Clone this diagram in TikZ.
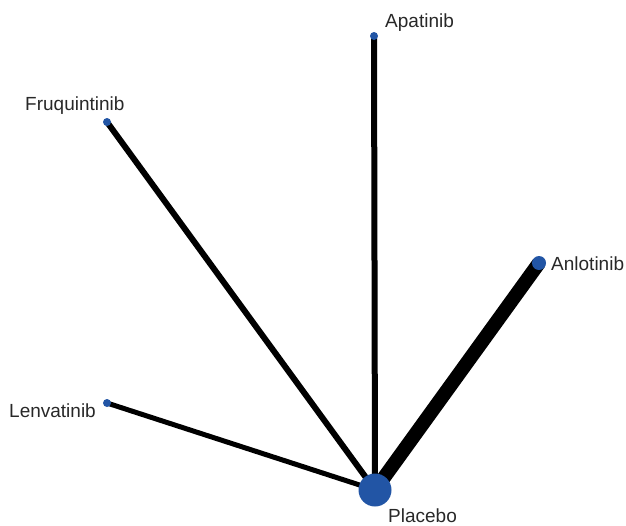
\documentclass[tikz,border=0pt]{standalone}
\usepackage{fontspec}
\setmainfont{Liberation Sans}
\definecolor{nodeblue}{RGB}{34,85,165}
\definecolor{labelgray}{RGB}{40,40,40}
\tikzset{
  trt/.style={circle, fill=nodeblue, inner sep=0pt, minimum size=#1},
  lab/.style={anchor=base west, inner sep=0pt, text=labelgray, font=\fontsize{19}{22}\selectfont},
  edge/.style={draw=black, line width=#1}
}
\begin{document}
\begin{tikzpicture}[x=1pt,y=-1pt]
\useasboundingbox (0,0) rectangle (626,525);
\coordinate (P) at (375,490);
\coordinate (Ap) at (374,36);
\coordinate (Fr) at (107,122);
\coordinate (An) at (539,263);
\coordinate (Le) at (107,403);
\draw[edge=6pt] (P) -- (Ap);
\draw[edge=6pt] (P) -- (Fr);
\draw[edge=14pt] (P) -- (An);
\draw[edge=5pt] (P) -- (Le);
\node[trt=33pt] (placebo) at (P) {};
\node[trt=8pt] (apatinib) at (Ap) {};
\node[trt=8pt] (fruq) at (Fr) {};
\node[trt=14pt] (anlo) at (An) {};
\node[trt=8pt] (lenva) at (Le) {};
\node[lab] (lplacebo) at (388,522) {Placebo};
\node[lab] (lapatinib) at (385,27) {Apatinib};
\node[lab] (lfruq) at (25,110) {Fruquintinib};
\node[lab] (lanlo) at (551,270) {Anlotinib};
\node[lab] (llenva) at (9,417) {Lenvatinib};
\end{tikzpicture}
\end{document}
